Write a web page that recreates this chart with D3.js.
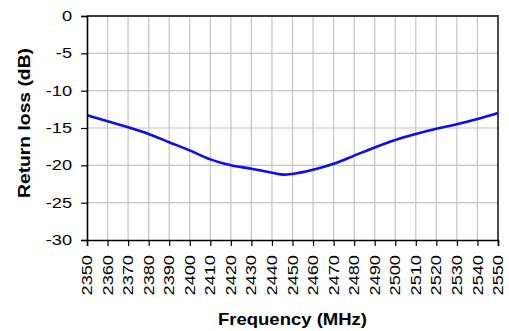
<!DOCTYPE html>
<html><head><meta charset="utf-8">
<script src="https://cdn.jsdelivr.net/npm/d3@7"></script>
<style>html,body{margin:0;padding:0;background:#fff;}svg{display:block;}</style>
</head><body>
<script>
const freqs = [2350,2360,2370,2380,2390,2400,2410,2420,2430,2440,2446,2450,2460,2470,2480,2490,2500,2510,2520,2530,2540,2550];
const returnLoss = [-13.3,-14.1,-14.9,-15.8,-16.9,-18.0,-19.2,-20.0,-20.45,-21.0,-21.25,-21.15,-20.6,-19.8,-18.7,-17.6,-16.6,-15.8,-15.1,-14.5,-13.8,-13.0];
const xTicks = d3.range(2350, 2551, 10);
const yTicks = [0,-5,-10,-15,-20,-25,-30];
const xTitle = "Frequency (MHz)";
const yTitle = "Return loss (dB)";

const W = 509, H = 331;
const m = {l:87, r:498, t:16, b:240};
const svg = d3.select("body").append("svg").attr("width", W).attr("height", H);
const x = d3.scaleLinear().domain([2350,2550]).range([m.l, m.r]);
const y = d3.scaleLinear().domain([-30,0]).range([m.b, m.t]);
const SX = 1.3;

// gridlines
svg.append("g").selectAll("line").data(xTicks.slice(1)).join("line")
  .attr("x1", d=>x(d)).attr("x2", d=>x(d)).attr("y1", m.t).attr("y2", m.b)
  .attr("stroke", "#c4c4c4").attr("stroke-width", 1.2);
svg.append("g").selectAll("line").data(yTicks.filter(d=>d!==-30)).join("line")
  .attr("x1", m.l).attr("x2", m.r).attr("y1", d=>y(d)).attr("y2", d=>y(d))
  .attr("stroke", "#c4c4c4").attr("stroke-width", 1.2);

// border top/right
svg.append("path").attr("d", `M${m.l},${m.t}H${m.r}V${m.b}`)
  .attr("fill","none").attr("stroke","#3a3a3a").attr("stroke-width",1.8);

// line
const line = d3.line().x((d,i)=>x(freqs[i])).y(d=>y(d)).curve(d3.curveMonotoneX);
svg.append("path").attr("d", line(returnLoss)).attr("fill","none")
  .attr("stroke","#0a0aff").attr("stroke-width",2.6).attr("stroke-linejoin","round");

// axes
const gx = svg.append("g").attr("transform", `translate(0,${m.b})`)
  .call(d3.axisBottom(x).tickValues(xTicks).tickSize(6).tickFormat(""));
const gy = svg.append("g").attr("transform", `translate(${m.l},0)`)
  .call(d3.axisLeft(y).tickValues(yTicks).tickSize(6).tickFormat(""));
[gx, gy].forEach(g => {
  g.select(".domain").attr("stroke","#000").attr("stroke-width",1.6);
  g.selectAll(".tick line").attr("stroke","#000").attr("stroke-width",1.2);
});

// y tick labels
svg.append("g").selectAll("text").data(yTicks).join("text")
  .attr("transform", d=>`translate(72,${y(d)}) scale(${SX},1)`)
  .attr("text-anchor","end").attr("dy","0.35em")
  .attr("font-family","Liberation Sans, Arial, sans-serif").attr("font-size",14)
  .attr("fill","#000").text(d=>d);

// x tick labels
svg.append("g").selectAll("text").data(xTicks).join("text")
  .attr("transform", d=>`translate(${x(d)},255) rotate(-90) scale(${SX},1)`)
  .attr("text-anchor","end").attr("dy","0.36em")
  .attr("font-family","Liberation Sans, Arial, sans-serif").attr("font-size",14)
  .attr("fill","#000").text(d=>d);

// titles
svg.append("text").attr("x", (m.l+m.r)/2).attr("y", 325)
  .attr("text-anchor","middle").attr("font-family","Liberation Sans, Arial, sans-serif")
  .attr("font-weight","bold").attr("font-size",16.5)
  .attr("textLength",149).attr("lengthAdjust","spacingAndGlyphs").text(xTitle);
svg.append("text").attr("transform", `translate(30,123) rotate(-90)`)
  .attr("text-anchor","middle").attr("font-family","Liberation Sans, Arial, sans-serif")
  .attr("font-weight","bold").attr("font-size",16.5)
  .attr("textLength",150).attr("lengthAdjust","spacingAndGlyphs").text(yTitle);
</script>
</body></html>
